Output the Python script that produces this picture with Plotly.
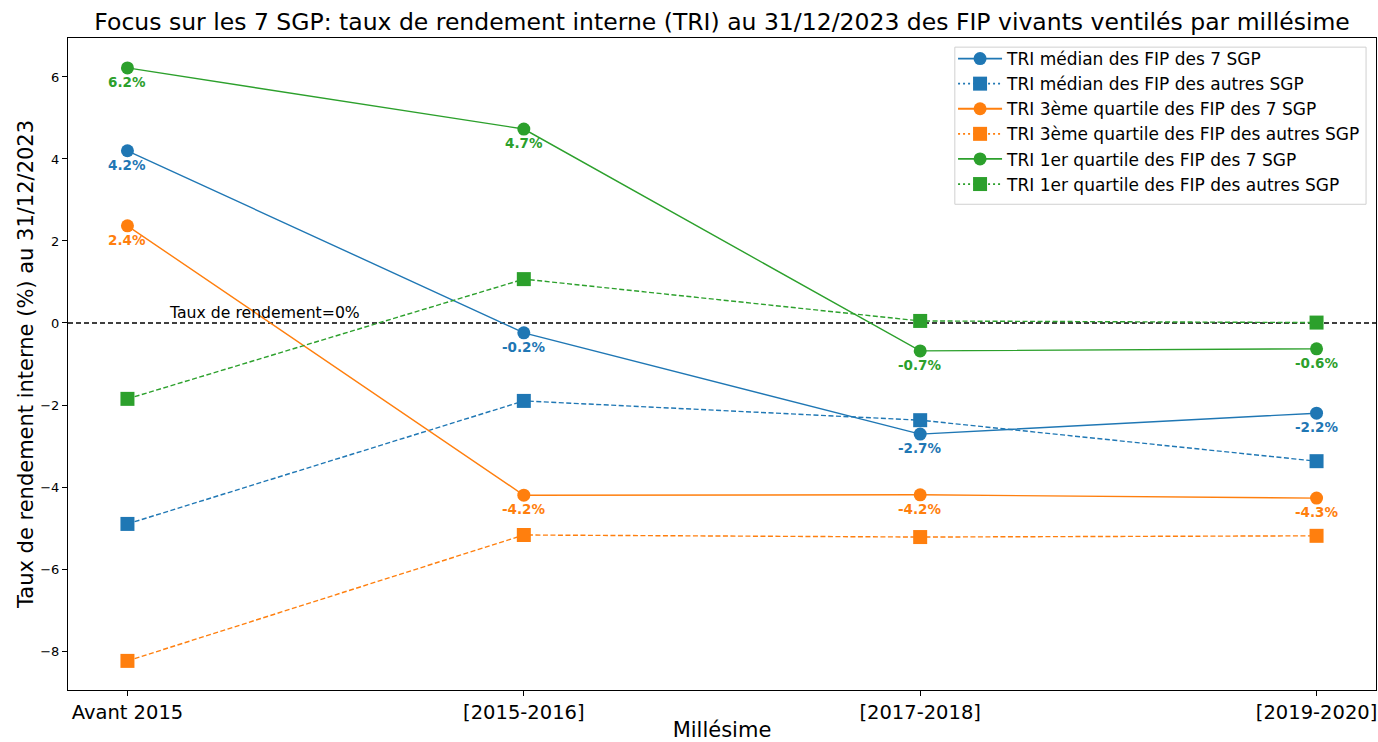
import plotly.graph_objects as go

categories = ["Avant 2015", "[2015-2016]", "[2017-2018]", "[2019-2020]"]
median_7 = [4.2, -0.24, -2.71, -2.2]
median_autres = [-4.9, -1.9, -2.37, -3.37]
q3_7 = [2.37, -4.2, -4.19, -4.27]
q3_autres = [-8.24, -5.17, -5.22, -5.19]
q1_7 = [6.22, 4.73, -0.68, -0.63]
q1_autres = [-1.85, 1.07, 0.05, 0.01]

blue, orange, green = "#1f77b4", "#ff7f0e", "#2ca02c"
xi = list(range(len(categories)))
FONT = "DejaVu Sans"

series = [
    ("TRI médian des FIP des 7 SGP", median_7, blue, "circle", True),
    ("TRI médian des FIP des autres SGP", median_autres, blue, "square", False),
    ("TRI 3ème quartile des FIP des 7 SGP", q3_7, orange, "circle", True),
    ("TRI 3ème quartile des FIP des autres SGP", q3_autres, orange, "square", False),
    ("TRI 1er quartile des FIP des 7 SGP", q1_7, green, "circle", True),
    ("TRI 1er quartile des FIP des autres SGP", q1_autres, green, "square", False),
]

fig = go.Figure()
annotations = []
for i, (name, vals, col, sym, solid) in enumerate(series):
    msize = 13 if sym == "circle" else 14
    fig.add_trace(go.Scatter(
        x=xi, y=vals, mode="lines+markers", name=name, showlegend=False,
        line=dict(color=col, width=1.4, dash="solid" if solid else "5px,2.5px"),
        marker=dict(symbol=sym, size=msize, color=col),
    ))
    # legend entry
    fig.add_trace(go.Scatter(
        x=[None], y=[None], mode="lines+markers", name=name,
        line=dict(color=col, width=1.8, dash="solid" if solid else "2px,3px"),
        marker=dict(symbol=sym, size=msize, color=col),
    ))
    if solid:
        for x, v in zip(xi, vals):
            annotations.append(dict(
                x=x, y=v, xref="x", yref="y", text=f"<b>{v:.1f}%</b>", showarrow=False,
                yshift=-14, font=dict(family=FONT, size=13.5, color=col),
            ))

annotations.append(dict(
    x=0.1, y=0, xref="x", yref="y", text="Taux de rendement=0%", showarrow=False,
    xanchor="left", yanchor="bottom", yshift=-1, font=dict(family=FONT, size=15.7, color="black"),
))

fig.add_shape(type="line", xref="paper", yref="y", x0=0, x1=1, y0=0, y1=0,
              line=dict(color="black", width=1.3, dash="5px,3px"), layer="below")
# legend frame
fig.add_shape(type="rect", xref="paper", yref="paper", x0=0.678, x1=0.9924, y0=0.745, y1=0.986,
              line=dict(color="#d0d0d0", width=1), fillcolor="rgba(255,255,255,0.8)", layer="below")

fig.update_layout(
    width=1378, height=742,
    margin=dict(l=68, r=2, t=38, b=52),
    plot_bgcolor="white", paper_bgcolor="white",
    font=dict(family=FONT, color="black"),
    title=dict(text="Focus sur les 7 SGP: taux de rendement interne (TRI) au 31/12/2023 des FIP vivants ventilés par millésime",
               x=0.524, xanchor="center", y=0.970, yanchor="middle", yref="container",
               font=dict(family=FONT, size=23.5, color="black")),
    annotations=annotations,
    legend=dict(x=0.9924, xanchor="right", y=0.9954, yanchor="top",
                borderwidth=0, bgcolor="rgba(0,0,0,0)", itemwidth=44,
                font=dict(family=FONT, size=17), tracegroupgap=0),
    showlegend=True,
)
fig.update_xaxes(
    range=[-0.15, 3.15], tickvals=xi, ticktext=categories, showgrid=False, zeroline=False,
    showline=True, linecolor="black", linewidth=1, mirror=True,
    ticks="outside", ticklen=5, tickcolor="black", automargin=False,
    tickfont=dict(family=FONT, size=19.5),
    title=dict(text="Millésime", font=dict(family=FONT, size=21), standoff=8),
)
fig.update_yaxes(
    range=[-8.95, 6.95], tickvals=[-8, -6, -4, -2, 0, 2, 4, 6], showgrid=False, zeroline=False,
    showline=True, linecolor="black", linewidth=1, mirror=True,
    ticks="outside", ticklen=5, tickcolor="black", automargin=False,
    tickfont=dict(family=FONT, size=13),
    title=dict(text="Taux de rendement interne (%) au 31/12/2023", font=dict(family=FONT, size=21), standoff=0),
)

fig.write_html("out.html", config={"displayModeBar": False},
               post_script="document.body.style.margin='0';document.body.style.overflow='hidden';")
